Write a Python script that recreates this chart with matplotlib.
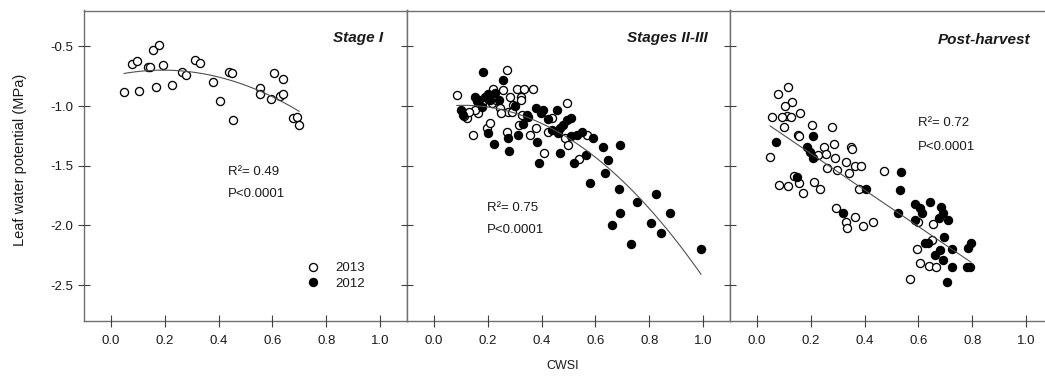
import numpy as np
import matplotlib
matplotlib.use("Agg")
import matplotlib.pyplot as plt
from matplotlib.lines import Line2D

plt.rcParams['font.family'] = ['Liberation Sans', 'DejaVu Sans']

# ---------------- data ----------------
panel_titles = ["Stage I", "Stages II-III", "Post-harvest"]
r2_labels = ["R\u00b2= 0.49", "R\u00b2= 0.75", "R\u00b2= 0.72"]
p_labels = ["P<0.0001", "P<0.0001", "P<0.0001"]
fit_degree = [2, 2, 1]
x_ticks = [0.0, 0.2, 0.4, 0.6, 0.8, 1.0]
x_ticklabels = ["0.0", "0.2", "0.4", "0.6", "0.8", "1.0"]
y_ticks = [-0.5, -1.0, -1.5, -2.0, -2.5]
y_ticklabels = ["-0.5", "-1.0", "-1.5", "-2.0", "-2.5"]
legend_labels = ["2013", "2012"]

s1_2013_x = [0.049, 0.077, 0.096, 0.104, 0.139, 0.145, 0.158, 0.179, 0.168, 0.195,
             0.227, 0.263, 0.279, 0.314, 0.331, 0.378, 0.406, 0.44, 0.45, 0.455,
             0.555, 0.554, 0.605, 0.596, 0.628, 0.638, 0.64, 0.678, 0.69, 0.699]
s1_2013_y = [-0.88, -0.648, -0.62, -0.872, -0.67, -0.67, -0.53, -0.49, -0.843, -0.656,
             -0.824, -0.712, -0.74, -0.615, -0.637, -0.796, -0.955, -0.712, -0.726, -1.117,
             -0.852, -0.9, -0.726, -0.941, -0.92, -0.9, -0.776, -1.098, -1.095, -1.159]
s1_2012_x = []
s1_2012_y = []

s2_2013_x = [0.085, 0.273, 0.221, 0.258, 0.31, 0.335, 0.367, 0.322, 0.322, 0.283,
             0.493, 0.215, 0.246, 0.295, 0.276, 0.25, 0.165, 0.116, 0.122, 0.146,
             0.196, 0.208, 0.27, 0.316, 0.357, 0.379, 0.425, 0.41, 0.487, 0.497,
             0.539, 0.567, 0.326, 0.153, 0.11, 0.13, 0.18, 0.23, 0.29, 0.44]
s2_2013_y = [-0.908, -0.698, -0.86, -0.866, -0.86, -0.86, -0.86, -0.922, -0.95, -0.922,
             -0.977, -0.977, -1.019, -0.99, -1.047, -1.06, -1.06, -1.06, -1.103, -1.243,
             -1.187, -1.145, -1.215, -1.159, -1.243, -1.187, -1.215, -1.396, -1.27, -1.326,
             -1.446, -1.243, -1.075, -1.033, -1.08, -1.05, -0.98, -0.95, -1.05, -1.1]
s2_2012_x = [0.184, 0.255, 0.153, 0.168, 0.19, 0.208, 0.227, 0.1, 0.109, 0.177,
             0.202, 0.224, 0.276, 0.279, 0.311, 0.345, 0.35, 0.382, 0.392, 0.398,
             0.406, 0.423, 0.456, 0.46, 0.468, 0.481, 0.493, 0.509, 0.468, 0.53,
             0.52, 0.566, 0.58, 0.592, 0.629, 0.648, 0.636, 0.691, 0.688, 0.691,
             0.663, 0.753, 0.731, 0.825, 0.806, 0.843, 0.877, 0.992, 0.16, 0.2,
             0.24, 0.3, 0.38, 0.44, 0.33, 0.55, 0.51]
s2_2012_y = [-0.712, -0.782, -0.922, -0.95, -0.922, -0.95, -0.893, -1.033, -1.075, -1.006,
             -1.228, -1.318, -1.27, -1.377, -1.243, -1.075, -1.09, -1.299, -1.475, -1.06,
             -1.033, -1.111, -1.033, -1.228, -1.187, -1.159, -1.117, -1.103, -1.396, -1.243,
             -1.475, -1.41, -1.647, -1.27, -1.34, -1.452, -1.564, -1.326, -1.698, -1.899,
             -1.999, -1.801, -2.158, -1.737, -1.977, -2.061, -1.899, -2.2, -0.96, -0.9,
             -0.95, -1.0, -1.02, -1.2, -1.15, -1.22, -1.25]

s3_2013_x = [0.117, 0.08, 0.129, 0.104, 0.113, 0.092, 0.055, 0.126, 0.16, 0.101,
             0.049, 0.152, 0.158, 0.204, 0.228, 0.249, 0.257, 0.278, 0.288, 0.259,
             0.296, 0.29, 0.348, 0.352, 0.33, 0.342, 0.364, 0.385, 0.082, 0.114,
             0.138, 0.157, 0.172, 0.213, 0.234, 0.38, 0.472, 0.294, 0.33, 0.334,
             0.364, 0.395, 0.432, 0.6, 0.653, 0.649, 0.593, 0.606, 0.64, 0.665, 0.569]
s3_2013_y = [-0.838, -0.899, -0.969, -1.0, -1.084, -1.095, -1.089, -1.09, -1.061, -1.178,
             -1.424, -1.243, -1.25, -1.159, -1.41, -1.346, -1.402, -1.178, -1.318, -1.522,
             -1.536, -1.438, -1.34, -1.36, -1.471, -1.558, -1.5, -1.5, -1.661, -1.67,
             -1.584, -1.647, -1.726, -1.634, -1.697, -1.697, -1.542, -1.857, -1.969, -2.024,
             -1.927, -2.002, -1.969, -1.969, -1.988, -2.122, -2.197, -2.317, -2.34, -2.345, -2.451]
s3_2012_x = [0.071, 0.15, 0.21, 0.185, 0.197, 0.207, 0.321, 0.404, 0.535, 0.532,
             0.523, 0.587, 0.606, 0.643, 0.612, 0.587, 0.683, 0.692, 0.711, 0.678,
             0.624, 0.637, 0.695, 0.68, 0.662, 0.692, 0.726, 0.724, 0.707, 0.785,
             0.795, 0.779, 0.792]
s3_2012_y = [-1.299, -1.592, -1.251, -1.34, -1.382, -1.438, -1.899, -1.697, -1.55, -1.703,
             -1.899, -1.82, -1.857, -1.801, -1.893, -1.955, -1.849, -1.899, -1.955, -1.941,
             -2.15, -2.15, -2.1, -2.206, -2.248, -2.29, -2.2, -2.345, -2.471, -2.192,
             -2.145, -2.345, -2.345]

panels = [
    (s1_2013_x, s1_2013_y, s1_2012_x, s1_2012_y),
    (s2_2013_x, s2_2013_y, s2_2012_x, s2_2012_y),
    (s3_2013_x, s3_2013_y, s3_2012_x, s3_2012_y),
]

# ---------------- layout ----------------
W, H = 1045, 378
fig = plt.figure(figsize=(W / 100, H / 100), dpi=100)
fig.patch.set_facecolor('white')

ax_left = [84, 407, 730]
ax_w = 323
ax_top, ax_bot = 10.5, 321

title_pos = [(0.926, 0.911), (0.932, 0.911), (0.929, 0.905)]
stat_pos = [(0.446, 0.480, 0.409), (0.248, 0.364, 0.293), (0.582, 0.638, 0.560)]

spine_col = '#707070'
txt_col = '#1a1a1a'

for i, (xo, yo, xf, yf) in enumerate(panels):
    ax = fig.add_axes([ax_left[i] / W, 1 - ax_bot / H, ax_w / W, (ax_bot - ax_top) / H])
    ax.set_xlim(-0.1, 1.1)
    ax.set_ylim(-2.8, -0.2)
    for sp in ax.spines.values():
        sp.set_color(spine_col)
        sp.set_linewidth(1.0)
        sp.set_zorder(0.5)
    ax.set_xticks(x_ticks)
    ax.set_xticklabels(x_ticklabels)
    ax.set_yticks(y_ticks)
    if i == 0:
        ax.set_yticklabels(y_ticklabels)
    else:
        ax.set_yticklabels([])
    ax.tick_params(axis='both', direction='inout', length=8, width=0.8,
                   color='#404040', labelsize=9.5, labelcolor=txt_col)
    ax.tick_params(axis='x', pad=6)
    ax.tick_params(axis='y', pad=4)

    ax.scatter(xo, yo, s=34, facecolors='white', edgecolors='black',
               linewidths=0.95, zorder=3)
    if len(xf):
        ax.scatter(xf, yf, s=34, facecolors='black', edgecolors='black',
                   linewidths=0.95, zorder=3)

    allx = np.array(list(xo) + list(xf))
    ally = np.array(list(yo) + list(yf))
    coef = np.polyfit(allx, ally, fit_degree[i])
    xx = np.linspace(allx.min(), allx.max(), 100)
    ax.plot(xx, np.polyval(coef, xx), color='#505050', lw=0.8, zorder=4)

    tx, ty = title_pos[i]
    ax.text(tx, ty, panel_titles[i], transform=ax.transAxes, ha='right', va='center',
            fontsize=11, fontweight='bold', fontstyle='italic', color=txt_col)
    sx, sy1, sy2 = stat_pos[i]
    ax.text(sx, sy1, r2_labels[i], transform=ax.transAxes, ha='left', va='center',
            fontsize=9.5, color=txt_col)
    ax.text(sx, sy2, p_labels[i], transform=ax.transAxes, ha='left', va='center',
            fontsize=9.5, color=txt_col)

    if i == 0:
        handles = [Line2D([], [], marker='o', ls='none', markersize=5.8,
                          markerfacecolor='white', markeredgecolor='black', markeredgewidth=0.95),
                   Line2D([], [], marker='o', ls='none', markersize=5.8,
                          markerfacecolor='black', markeredgecolor='black', markeredgewidth=0.95)]
        ax.legend(handles, legend_labels, loc='center left',
                  bbox_to_anchor=((300 - 84) / ax_w, (321 - 276) / (ax_bot - ax_top)),
                  frameon=False, fontsize=9.5, handletextpad=1.2, labelspacing=0.25,
                  handlelength=1.0, borderpad=0, labelcolor=txt_col)

fig.text(20 / W, 1 - 160 / H, "Leaf water potential (MPa)", rotation=90,
         ha='center', va='center', fontsize=10.5, color=txt_col)
fig.text(563 / W, 1 - 366 / H, "CWSI", ha='center', va='center',
         fontsize=9, color=txt_col)

fig.savefig("out.png", dpi=100, facecolor='white')
